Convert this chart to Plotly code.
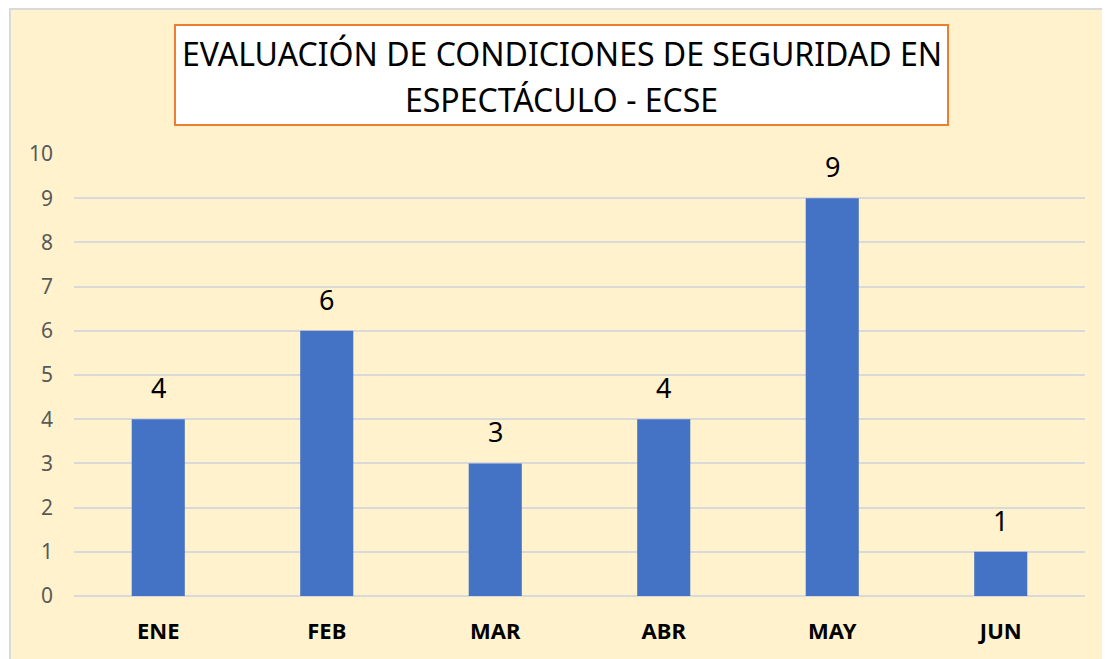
import plotly.graph_objects as go

# data
months = ['ENE', 'FEB', 'MAR', 'ABR', 'MAY', 'JUN']
counts = [4, 6, 3, 4, 9, 1]
y_ticks = list(range(0, 11))

title_lines = ['EVALUACIÓN DE CONDICIONES DE SEGURIDAD EN', 'ESPECTÁCULO - ECSE']

FONT = 'Noto Sans'
BAR_COLOR = '#4472C4'
CREAM = '#FFF2CC'
GRID = '#D9D9D9'

fig = go.Figure()

fig.add_trace(go.Bar(
    x=months,
    y=counts,
    marker=dict(color=BAR_COLOR, line=dict(width=0)),
    hovertemplate='<b>%{x}</b><br>%{y}<extra></extra>',
))

# value labels above each bar
for m, c in zip(months, counts):
    fig.add_annotation(
        x=m, y=c, text=str(c), showarrow=False,
        yanchor='bottom', yshift=11,
        font=dict(family=FONT, size=27, color='black'),
    )

# cream chart area with grey frame (extends past right/bottom edges)
fig.add_shape(
    type='rect', xref='paper', yref='paper', layer='below',
    x0=-0.0633, x1=1.05, y0=-0.2, y1=1.328,
    fillcolor=CREAM, line=dict(color=GRID, width=2),
)

# title box
fig.add_shape(
    type='rect', xref='paper', yref='paper',
    x0=0.0999, x1=0.8645, y0=1.0656, y1=1.2919,
    fillcolor='white', line=dict(color='#ED7D31', width=2),
)
for line, ypos in zip(title_lines, [1.2285, 1.1244]):
    fig.add_annotation(
        xref='paper', yref='paper', x=0.4822, y=ypos,
        text=line, showarrow=False,
        xanchor='center', yanchor='middle',
        font=dict(family=FONT, size=32, color='black'),
    )

fig.update_xaxes(
    showgrid=False, showline=False, ticks='',
    tickfont=dict(family=FONT, size=22, color='black', weight='bold'),
    ticklabelstandoff=20, fixedrange=True,
)
fig.update_yaxes(
    range=[0, 10], tickvals=y_ticks,
    showgrid=True, gridcolor=GRID, gridwidth=1.5,
    zeroline=True, zerolinecolor=GRID, zerolinewidth=1.5,
    showline=False, ticks='',
    tickfont=dict(family=FONT, size=21, color='#595959'),
    ticklabelstandoff=20, fixedrange=True,
)

# page is offset by the default 8px body margin, so margins compensate
fig.update_layout(
    width=1110, height=659,
    margin=dict(l=66, r=33, t=146, b=71),
    paper_bgcolor='white',
    plot_bgcolor='rgba(0,0,0,0)',
    bargap=0.685,
    showlegend=False,
    font=dict(family=FONT),
)

fig.write_html('out.html')
